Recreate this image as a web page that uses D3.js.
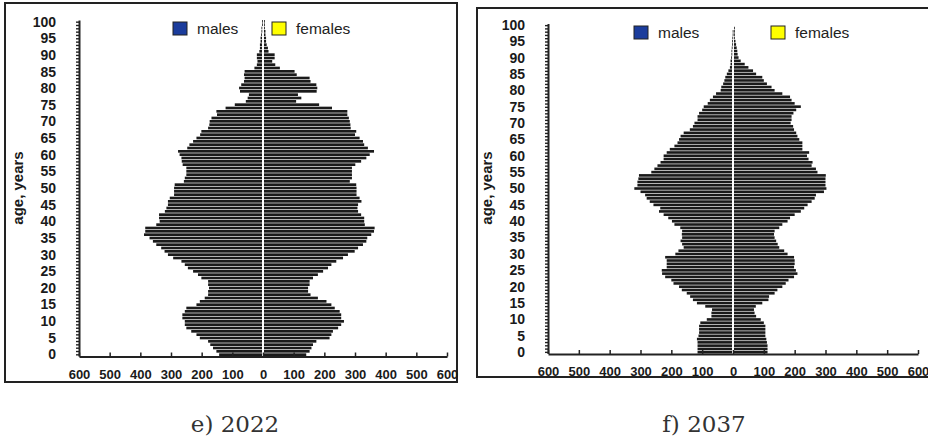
<!DOCTYPE html>
<html>
<head>
<meta charset="utf-8">
<script src="https://cdn.jsdelivr.net/npm/d3@7"></script>
<style>
  body { margin: 0; background: #fff; }
  svg { display: block; }
  .tick text { font-family: "Liberation Sans", Arial, sans-serif; font-weight: bold; fill: #1a1a1a; }
  .legend text { font-family: "Liberation Sans", Arial, sans-serif; font-size: 15.5px; fill: #222; }
  .caption { font-family: "DejaVu Serif", serif; font-size: 23px; fill: #333; text-anchor: middle; }
</style>
</head>
<body>
<svg id="chart" width="928" height="440"></svg>
<script>
var ages = d3.range(0, 101);
var xTickValues = [-600, -500, -400, -300, -200, -100, 0, 100, 200, 300, 400, 500, 600];
var yTickValues = [0, 5, 10, 15, 20, 25, 30, 35, 40, 45, 50, 55, 60, 65, 70, 75, 80, 85, 90, 95, 100];
var legendLabels = ['males', 'females'];

// age 0 .. 100
var males2022 = [143, 152, 163, 172, 179, 206, 217, 234, 250, 255,
    255, 263, 263, 255, 250, 217, 206, 190, 179, 179,
    176, 179, 179, 201, 212, 228, 245, 255, 266, 293,
    310, 321, 332, 348, 359, 370, 388, 384, 384, 348,
    337, 339, 339, 320, 315, 310, 310, 304, 290, 290,
    290, 288, 258, 255, 250, 250, 250, 262, 265, 266,
    272, 277, 247, 240, 228, 217, 205, 201, 179, 175,
    174, 168, 150, 152, 122, 92, 56, 50, 46, 75,
    78, 71, 62, 60, 62, 60, 28, 20, 18, 20,
    20, 12, 10, 10, 8, 8, 6, 5, 5, 3, 3];
var females2022 = [141, 152, 158, 163, 174, 217, 223, 228, 245, 255,
    264, 255, 255, 250, 234, 223, 207, 179, 155, 147,
    147, 152, 152, 163, 179, 196, 212, 223, 239, 261,
    277, 299, 310, 326, 337, 340, 353, 362, 364, 332,
    330, 330, 320, 310, 308, 310, 321, 315, 305, 305,
    305, 304, 283, 290, 290, 290, 290, 301, 320, 337,
    348, 362, 342, 330, 326, 315, 300, 304, 286, 285,
    283, 280, 275, 275, 225, 183, 108, 125, 114, 175,
    177, 174, 155, 152, 110, 103, 55, 40, 30, 38,
    38, 18, 16, 12, 10, 10, 8, 8, 6, 5, 5];
var males2037 = [115, 115, 115, 115, 117, 112, 110, 110, 110, 106,
    85, 70, 70, 68, 90, 117, 130, 139, 150, 166,
    175, 193, 200, 220, 230, 231, 215, 215, 215, 220,
    187, 177, 160, 165, 170, 165, 166, 165, 171, 190,
    198, 210, 225, 240, 236, 258, 270, 280, 285, 300,
    320, 310, 310, 307, 305, 265, 255, 245, 235, 225,
    225, 215, 205, 190, 180, 175, 170, 160, 140, 130,
    125, 115, 115, 110, 100, 95, 82, 75, 65, 55,
    40, 38, 32, 28, 25, 20, 15, 10, 8, 8,
    6, 5, 5, 4, 3, 3, 2, 1, 1, 0, 0];
var females2037 = [112, 112, 112, 110, 108, 105, 105, 105, 105, 100,
    90, 75, 70, 68, 74, 95, 115, 117, 135, 144,
    160, 171, 180, 198, 209, 204, 198, 200, 200, 198,
    177, 166, 150, 145, 140, 135, 133, 135, 150, 160,
    177, 185, 200, 220, 231, 242, 255, 265, 269, 295,
    303, 300, 300, 300, 301, 274, 269, 255, 258, 245,
    240, 247, 225, 225, 225, 215, 209, 205, 198, 195,
    187, 190, 190, 196, 205, 220, 200, 190, 185, 160,
    135, 125, 110, 100, 95, 75, 65, 50, 38, 25,
    18, 15, 14, 12, 10, 8, 5, 3, 2, 1, 0];

var svg = d3.select('#chart');

function drawPyramid(cfg, males, females, caption) {
    var g = svg.append('g');

    g.append('rect')
        .attr('x', cfg.frame[0])
        .attr('y', cfg.frame[1])
        .attr('width', cfg.frame[2])
        .attr('height', cfg.frame[3])
        .attr('fill', 'none')
        .attr('stroke', '#222')
        .attr('stroke-width', 2);

    var xScale = d3.scaleLinear()
                    .domain([-600, 600])
                    .range([cfg.left, cfg.right]);
    var yScale = d3.scaleBand()
                    .domain(ages)
                    .range([cfg.bottom, cfg.top])
                    .paddingInner(0.2);
    var x0 = xScale(0);

    var rows = ages.map((a, i) => ({age: a, m: males[i], f: females[i]}));

    g.selectAll('.male')
        .data(rows.filter(d => d.m > 0))
        .enter()
        .append('rect')
            .classed('male', true)
            .attr('x', d => xScale(-d.m))
            .attr('y', d => yScale(d.age))
            .attr('width', d => Math.max(0.8, x0 - 1 - xScale(-d.m)))
            .attr('height', yScale.bandwidth())
            .attr('fill', '#1a1a1a');

    g.selectAll('.female')
        .data(rows.filter(d => d.f > 0))
        .enter()
        .append('rect')
            .classed('female', true)
            .attr('x', x0 + 1)
            .attr('y', d => yScale(d.age))
            .attr('width', d => Math.max(0.8, xScale(d.f) - x0 - 1))
            .attr('height', yScale.bandwidth())
            .attr('fill', '#1a1a1a');

    var xAxis = d3.axisBottom(xScale)
                    .tickValues(xTickValues)
                    .tickFormat(d => Math.abs(d))
                    .tickSizeInner(-4)
                    .tickSizeOuter(0)
                    .tickPadding(13);
    g.append('g')
        .attr('transform', `translate(0, ${cfg.bottom + 0.5})`)
        .call(xAxis)
        .call(a => a.select('.domain').attr('stroke', '#222').attr('stroke-width', 2))
        .call(a => a.selectAll('.tick line').attr('stroke', '#222').attr('stroke-width', 1.5))
        .call(a => a.selectAll('.tick text').style('font-size', '13px'));

    var yAxis = d3.axisLeft(d3.scaleLinear().domain([-0.5, 100.5]).range([cfg.bottom, cfg.top]))
                    .tickValues(ages)
                    .tickFormat(d => yTickValues.includes(d) ? d : '')
                    .tickSizeInner(3)
                    .tickSizeOuter(0)
                    .tickPadding(20);
    g.append('g')
        .attr('transform', `translate(${cfg.left}, 0)`)
        .call(yAxis)
        .call(a => a.select('.domain').attr('stroke', '#222').attr('stroke-width', 2))
        .call(a => a.selectAll('.tick line').attr('stroke', '#222').attr('stroke-width', 1.4))
        .call(a => a.selectAll('.tick text').style('font-size', '14px'));

    g.append('text')
        .attr('transform', 'rotate(-90)')
        .attr('x', -cfg.labelY)
        .attr('y', cfg.labelX)
        .style('font-family', '"Liberation Sans", Arial, sans-serif')
        .style('font-weight', 'bold')
        .style('font-size', '15px')
        .style('text-anchor', 'middle')
        .style('fill', '#1a1a1a')
        .text('age, years');

    var legend = g.append('g').classed('legend', true);
    var colors = ['#1b3c9c', '#ffff00'];
    legendLabels.forEach((lab, i) => {
        legend.append('rect')
            .attr('x', cfg.legendX[i])
            .attr('y', cfg.legendY)
            .attr('width', 14)
            .attr('height', 13)
            .attr('fill', colors[i])
            .attr('stroke', '#222')
            .attr('stroke-width', 1);
        legend.append('text')
            .attr('x', cfg.legendX[i] + 24)
            .attr('y', cfg.legendY + 12)
            .text(lab);
    });

    svg.append('text')
        .classed('caption', true)
        .attr('x', cfg.captionX)
        .attr('y', 432)
        .text(caption);
}

drawPyramid({
    frame: [5, 3, 452, 379],
    left: 79, right: 447, bottom: 356, top: 20,
    labelX: 23, labelY: 188,
    legendX: [173, 272], legendY: 22,
    captionX: 235
}, males2022, females2022, 'e) 2022');

drawPyramid({
    frame: [477, 8, 460, 369],
    left: 548, right: 918, bottom: 353.5, top: 23.5,
    labelX: 492, labelY: 188,
    legendX: [634, 771], legendY: 26,
    captionX: 704
}, males2037, females2037, 'f) 2037');
</script>
</body>
</html>
